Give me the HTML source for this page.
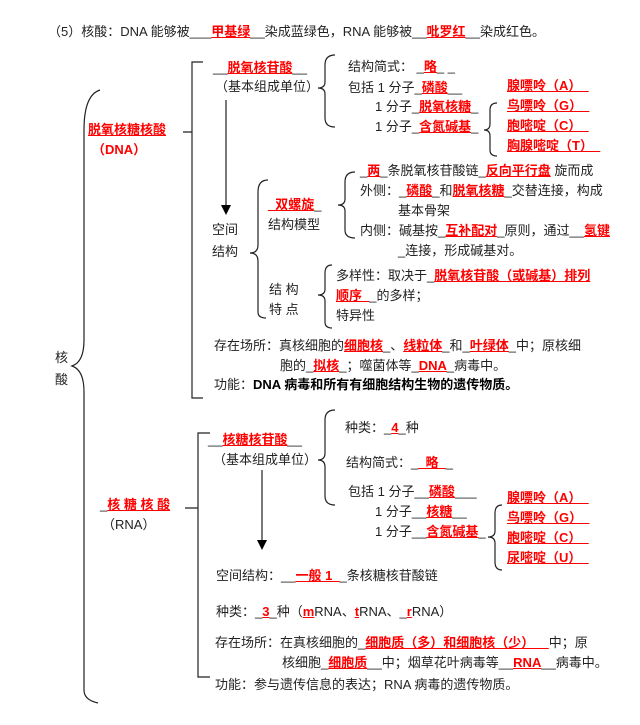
<!DOCTYPE html>
<html><head><meta charset="utf-8"><style>
body{margin:0;background:#fff;}
#c{position:relative;width:640px;height:725px;overflow:hidden;font-family:"Liberation Sans","Noto Sans CJK SC",sans-serif;font-size:13px;color:#222;}
.t{position:absolute;white-space:nowrap;line-height:16px;}
.r{color:#f00;font-weight:bold;text-decoration:underline;}
.b{font-weight:bold;color:#000;}
svg{position:absolute;left:0;top:0;}
</style></head><body><div id="c">
<svg width="640" height="725" fill="none" stroke="#222" stroke-width="1.2">
<!-- big left brace -->
<path d="M100,90 Q84,95 84,130 L84,340 Q84,362 72,366 Q84,370 84,392 L84,690 Q84,700 98,703"/>
<!-- DNA bracket -->
<path d="M203,62 L192,62 L192,398 L203,398 M183,132 L192,132"/>
<path d="M335,55 Q325,55 325,65 L325,82 Q325,88 318,88 Q325,88 325,94 L325,118 Q325,127 335,127"/>
<path d="M497,103 Q490,103 490,110 L490,124 Q490,130 484,130 Q490,130 490,136 L490,150 Q490,156 497,156"/>
<line x1="226" y1="100" x2="226" y2="205"/>
<path d="M221,205 L231,205 L226,215 Z" fill="#000" stroke="none"/>
<path d="M268,180 Q258,180 258,192 L258,245 Q258,253 250,253 Q258,253 258,261 L258,312 Q258,318 266,318"/>
<path d="M355,172 Q345,172 345,182 L345,199 Q345,205 338,205 Q345,205 345,211 L345,230 Q345,238 355,238"/>
<path d="M332,265 Q325,265 325,273 L325,289 Q325,295 318,295 Q325,295 325,301 L325,322 Q325,328 332,328"/>
<!-- RNA bracket -->
<path d="M210,433 L198,433 L198,677 L210,677 M185,508 L198,508"/>
<path d="M335,410 Q325,410 325,420 L325,453 Q325,460 318,460 Q325,460 325,467 L325,496 Q325,505 335,505"/>
<path d="M502,505 Q495,505 495,513 L495,531 Q495,537 488,537 Q495,537 495,543 L495,562 Q495,570 502,570"/>
<line x1="262" y1="470" x2="262" y2="540"/>
<path d="M257,540 L267,540 L262,550 Z" fill="#000" stroke="none"/>
</svg>
<div class="t" style="left:48px;top:24px">（5）核酸：DNA 能够被___<span class="r">甲基绿</span>__染成蓝绿色，RNA 能够被__<span class="r">吡罗红</span>__染成红色。</div>
<div class="t" style="left:55px;top:350px">核</div>
<div class="t" style="left:55px;top:372px">酸</div>
<div class="t" style="left:88px;top:122px"><span class="r">脱氧核糖核酸</span></div>
<div class="t" style="left:92px;top:142px;color:#f00;font-weight:bold">（DNA）</div>
<div class="t" style="left:213px;top:60px">__<span class="r">脱氧核苷酸</span>__</div>
<div class="t" style="left:215px;top:79px">（基本组成单位）</div>
<div class="t" style="left:348px;top:59px">结构简式： _<span class="r">略</span>_ _</div>
<div class="t" style="left:348px;top:80px">包括 1 分子_<span class="r">磷酸</span>__</div>
<div class="t" style="left:375px;top:99px">1 分子_<span class="r">脱氧核糖</span>_</div>
<div class="t" style="left:375px;top:119px">1 分子_<span class="r">含氮碱基</span>_</div>
<div class="t" style="left:507px;top:78px"><span class="r">腺嘌呤（A）_</span></div>
<div class="t" style="left:507px;top:98px"><span class="r">鸟嘌呤（G）_</span></div>
<div class="t" style="left:507px;top:118px"><span class="r">胞嘧啶（C）_</span></div>
<div class="t" style="left:507px;top:138px"><span class="r">胸腺嘧啶（T）_</span></div>
<div class="t" style="left:212px;top:222px">空间</div>
<div class="t" style="left:212px;top:244px">结构</div>
<div class="t" style="left:268px;top:197px"><span class="r">_双螺旋</span>_</div>
<div class="t" style="left:268px;top:217px">结构模型</div>
<div class="t" style="left:360px;top:163px">_<span class="r">两</span>_条脱氧核苷酸链_<span class="r">反向平行盘</span> 旋而成</div>
<div class="t" style="left:360px;top:183px">外侧：_<span class="r">磷酸</span>_和<span class="r">脱氧核糖</span>_交替连接，构成</div>
<div class="t" style="left:398px;top:203px">基本骨架</div>
<div class="t" style="left:360px;top:223px">内侧：碱基按_<span class="r">互补配对</span>_原则，通过__<span class="r">氢键</span></div>
<div class="t" style="left:398px;top:243px">_连接，形成碱基对。</div>
<div class="t" style="left:269px;top:282px">结 构</div>
<div class="t" style="left:269px;top:302px">特 点</div>
<div class="t" style="left:336px;top:268px">多样性：取决于_<span class="r">脱氧核苷酸（或碱基）排列</span></div>
<div class="t" style="left:336px;top:288px"><span class="r">顺序_</span>_的多样；</div>
<div class="t" style="left:336px;top:308px">特异性</div>
<div class="t" style="left:214px;top:338px">存在场所：真核细胞的<span class="r">细胞核</span>_、<span class="r">线粒体</span>_和_<span class="r">叶绿体</span>_中；原核细</div>
<div class="t" style="left:280px;top:358px">胞的_<span class="r">拟核</span>_；噬菌体等_<span class="r">DNA</span>_病毒中。</div>
<div class="t" style="left:214px;top:377px">功能：<span class="b">DNA 病毒和所有有细胞结构生物的遗传物质。</span></div>
<div class="t" style="left:100px;top:497px">_<span class="r">核 糖 核 酸</span></div>
<div class="t" style="left:102px;top:517px">（RNA）</div>
<div class="t" style="left:208px;top:432px">__<span class="r">核糖核苷酸</span>__</div>
<div class="t" style="left:213px;top:452px">（基本组成单位）</div>
<div class="t" style="left:345px;top:420px">种类：_<span class="r">4</span>_种</div>
<div class="t" style="left:346px;top:455px">结构简式：_<span class="r">_略_</span>_</div>
<div class="t" style="left:348px;top:484px">包括 1 分子__<span class="r">磷酸</span>___</div>
<div class="t" style="left:375px;top:504px">1 分子__<span class="r">核糖</span>__</div>
<div class="t" style="left:375px;top:524px">1 分子__<span class="r">含氮碱基</span>_</div>
<div class="t" style="left:507px;top:490px"><span class="r">腺嘌呤（A）_</span></div>
<div class="t" style="left:507px;top:510px"><span class="r">鸟嘌呤（G）_</span></div>
<div class="t" style="left:507px;top:530px"><span class="r">胞嘧啶（C）_</span></div>
<div class="t" style="left:507px;top:550px"><span class="r">尿嘧啶（U）_</span></div>
<div class="t" style="left:216px;top:568px">空间结构：__<span class="r">一般 1_</span>_条核糖核苷酸链</div>
<div class="t" style="left:216px;top:604px">种类：_<span class="r">3</span>_种（<span class="r">m</span>RNA、<span class="r">t</span>RNA、_<span class="r">r</span>RNA）</div>
<div class="t" style="left:215px;top:635px">存在场所：在真核细胞的_<span class="r">细胞质（多）和细胞核（少）__</span>中；原</div>
<div class="t" style="left:282px;top:655px">核细胞_<span class="r">细胞质</span>__中；烟草花叶病毒等__<span class="r">RNA</span>__病毒中。</div>
<div class="t" style="left:215px;top:677px">功能：参与遗传信息的表达；RNA 病毒的遗传物质。</div>
</div></body></html>
